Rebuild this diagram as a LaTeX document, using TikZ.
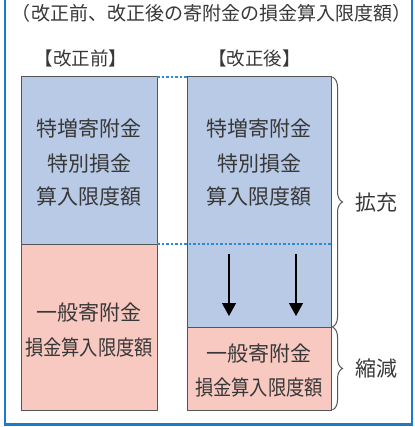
\documentclass[tikz,border=0pt]{standalone}
\usepackage{fontspec}
\usepackage{graphicx}
\setmainfont{Noto Sans CJK JP}
\usetikzlibrary{decorations.pathreplacing,arrows.meta}
\definecolor{frameblue}{HTML}{1B7BC9}
\definecolor{boxblue}{HTML}{B8CAE6}
\definecolor{boxpink}{HTML}{F8C9C1}
\definecolor{edgegray}{HTML}{555555}
\definecolor{txtgray}{HTML}{383838}
\definecolor{dotblue}{HTML}{2E8BD6}
\begin{document}
\begin{tikzpicture}[x=1pt,y=-1pt,
  box/.style={draw=edgegray,line width=1pt,inner sep=0pt,outer sep=0pt,anchor=north west},
  bluebox/.style={box,fill=boxblue},
  pinkbox/.style={box,fill=boxpink},
  lbl/.style={text=txtgray,inner sep=0pt,font=\fontsize{21pt}{21pt}\selectfont},
  hdr/.style={text=txtgray,inner sep=0pt,font=\fontsize{18.5pt}{18.5pt}\selectfont},
  dotline/.style={draw=dotblue,line width=1.2pt,dash pattern=on 2.5pt off 2pt},
  bracestyle/.style={draw=edgegray,line width=1pt,decorate,decoration={brace,amplitude=10pt}},
  downarrow/.style={draw=black,line width=1.3pt,-{Triangle[length=13pt,width=14pt]}}
]
\useasboundingbox (0,0) rectangle (414,427);
\fill[white] (0,0) rectangle (414,427);
% frame
\draw[frameblue,line width=2.6pt] (5,-2) -- (5,424.5) -- (412,424.5) -- (412,-2);

% title and headers
\node[hdr,font=\fontsize{19pt}{19pt}\selectfont] (title) at (211.5,13.5) {（改正前、改正後の寄附金の損金算入限度額）};
\node[hdr] (hbefore) at (81,58.7) {【改正前】};
\node[hdr] (hafter) at (254.5,58.7) {【改正後】};

% boxes
\node[bluebox,minimum width=136pt,minimum height=167pt] (lblue) at (21,77) {};
\node[pinkbox,minimum width=136pt,minimum height=166pt] (lpink) at (21,244) {};
\node[bluebox,minimum width=144pt,minimum height=250pt] (rblue) at (187,77) {};
\node[pinkbox,minimum width=144pt,minimum height=83pt] (rpink) at (187,327) {};

% dotted guide lines
\draw[dotline] (lblue.north east) -- (rblue.north west);
\coordinate (mdR) at (331,244);
\draw[dotline] (lblue.south east) -- (mdR);

% texts left
\node[lbl] (l1) at (89,128.8) {特増寄附金};
\node[lbl] (l2) at (89,163.3) {特別損金};
\node[lbl] (l3) at (89,196.7) {算入限度額};
\node[lbl] (l4) at (89,313) {一般寄附金};
\node[lbl] (l5) at (89,347.5) {\scalebox{0.87}[1]{損金算入限度額}};
% texts right
\node[lbl] (r1) at (259,128.8) {特増寄附金};
\node[lbl] (r2) at (259,163.3) {特別損金};
\node[lbl] (r3) at (259,196.7) {算入限度額};
\node[lbl] (r4) at (259,354) {一般寄附金};
\node[lbl] (r5) at (259,387.5) {\scalebox{0.87}[1]{損金算入限度額}};

% arrows
\coordinate (a1s) at (229,254);
\coordinate (a1e) at (229,316);
\coordinate (a2s) at (296,254);
\coordinate (a2e) at (296,316);
\draw[downarrow] (a1s) -- (a1e);
\draw[downarrow] (a2s) -- (a2e);

% braces
\draw[bracestyle] ([xshift=1.5pt]rblue.north east) -- ([xshift=1.5pt]rblue.south east);
\draw[bracestyle] ([xshift=1.5pt]rpink.north east) -- ([xshift=1.5pt]rpink.south east);
\node[lbl] (kakuju) at (376,203) {拡充};
\node[lbl] (shukugen) at (376,369) {縮減};
\end{tikzpicture}
\end{document}
